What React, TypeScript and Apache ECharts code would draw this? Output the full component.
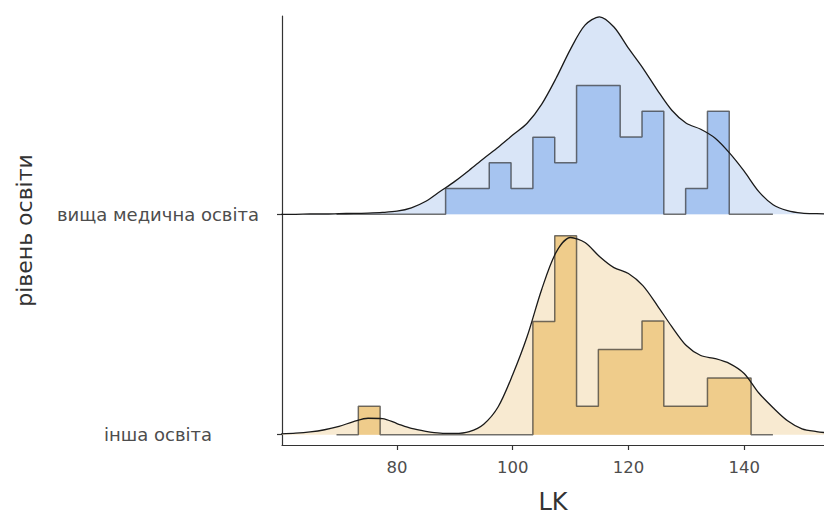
import React, { useEffect, useRef } from "react";
import * as echarts from "echarts";

// Category names (bottom to top)
const categories = ["інша освіта", "вища медична освіта"];

// Histogram bin edges (LK) shared by both groups
const binEdges = [
  69.56, 73.33, 77.1, 80.87, 84.64, 88.41, 92.18, 95.95, 99.72, 103.49, 107.27,
  111.04, 114.81, 118.58, 122.35, 126.12, 129.89, 133.66, 137.43, 141.2, 144.97,
];
// Counts per bin
const upperCounts = [0, 0, 0, 0, 0, 1, 1, 2, 1, 3, 2, 5, 5, 3, 4, 0, 1, 4, 0, 0];
const lowerCounts = [0, 1, 0, 0, 0, 0, 0, 0, 0, 4, 7, 1, 3, 3, 4, 1, 1, 2, 2, 0];

// Density curves, x grid and density values in per-mille
const densityX = [
  60, 62.5, 65, 67.5, 70, 72.5, 75, 77.5, 80, 82.5, 85, 87.5, 90, 92.5, 95, 97.5,
  100, 102.5, 105, 107.5, 110, 112.5, 115, 117.5, 120, 122.5, 125, 127.5, 130,
  132.5, 135, 137.5, 140, 142.5, 145, 147.5, 150, 152.5, 155,
];
const upperDensity = [
  0.0, 0.0, 0.1, 0.1, 0.2, 0.3, 0.4, 0.6, 1.0, 2.1, 4.2, 7.4, 10.6, 14.2, 18.0,
  21.6, 25.5, 29.3, 35.4, 43.8, 53.2, 60.9, 63.6, 60.3, 53.5, 47.1, 40.0, 33.5,
  29.3, 27.4, 24.5, 19.7, 13.9, 7.4, 3.1, 1.2, 0.4, 0.2, 0.1,
];
const lowerDensity = [
  0.3, 0.5, 0.9, 1.6, 2.7, 4.2, 5.3, 5.2, 3.6, 2.0, 1.1, 0.5, 0.4, 1.0, 3.4, 9.0,
  19.3, 31.6, 46.7, 58.7, 63.5, 61.9, 57.4, 53.8, 51.9, 48.0, 41.6, 34.8, 28.7,
  25.5, 24.5, 22.9, 19.7, 13.5, 8.7, 4.5, 1.9, 1.0, 0.5,
];

const xTicks = [80, 100, 120, 140];

// ridge height scale: y-units per unit of density
const K = 14.09;

function densityLine(base: number, dens: number[]) {
  return densityX.map((x, i) => [x, base + (dens[i] / 1000) * K]);
}

function histLine(base: number, counts: number[]) {
  const n = counts.reduce((a, b) => a + b, 0);
  const pts: number[][] = [];
  pts.push([binEdges[0], base]);
  for (let i = 0; i < counts.length; i++) {
    const w = binEdges[i + 1] - binEdges[i];
    const h = base + (counts[i] / (n * w)) * K;
    pts.push([binEdges[i], h]);
    pts.push([binEdges[i + 1], h]);
  }
  pts.push([binEdges[binEdges.length - 1], base]);
  return pts;
}

function ridgeSeries(
  base: number,
  counts: number[],
  dens: number[],
  light: string,
  strong: string
) {
  const d = densityLine(base, dens);
  return [
    {
      type: "line",
      data: d,
      smooth: 0.3,
      showSymbol: false,
      lineStyle: { width: 0 },
      areaStyle: { color: light, opacity: 1, origin: base },
      z: 1,
      silent: true,
    },
    {
      type: "line",
      data: histLine(base, counts),
      showSymbol: false,
      lineStyle: { color: "rgba(40,40,40,0.65)", width: 1.5 },
      areaStyle: { color: strong, opacity: 1, origin: base },
      z: 2,
      silent: true,
    },
    {
      type: "line",
      data: d,
      smooth: 0.3,
      showSymbol: false,
      lineStyle: { color: "#1a1a1a", width: 1.3 },
      z: 3,
      silent: true,
    },
  ];
}

export default function App() {
  const ref = useRef<HTMLDivElement>(null);
  useEffect(() => {
    if (!ref.current) return;
    const chart = echarts.init(ref.current, undefined, { renderer: "svg" });
    const font = "DejaVu Sans";
    chart.setOption({
      animation: false,
      backgroundColor: "#ffffff",
      grid: { left: 282, right: 0, top: 16, bottom: 70, containLabel: false, outerBoundsMode: "none" },
      xAxis: {
        type: "value",
        min: 60.14,
        max: 153.8,
        axisLine: { show: true, lineStyle: { color: "#333", width: 1.2 } },
        axisTick: { show: true, length: 5, customValues: xTicks, lineStyle: { color: "#333", width: 1.2 } },
        axisLabel: { customValues: xTicks, color: "#4d4d4d", fontSize: 16.5, fontFamily: font, margin: 14 },
        splitLine: { show: false },
        name: "LK",
        nameLocation: "middle",
        nameGap: 45,
        nameTextStyle: { fontSize: 24, color: "#333", fontFamily: font },
      },
      yAxis: {
        type: "value",
        min: 0.9533,
        max: 2.8997,
        axisLine: { show: true, lineStyle: { color: "#333", width: 1.2 } },
        axisTick: { show: true, length: 5, customValues: [1, 2], lineStyle: { color: "#333", width: 1.2 } },
        axisLabel: {
          customValues: [1, 2],
          color: "#4d4d4d",
          fontSize: 18,
          fontFamily: font,
          margin: 124,
          align: "center",
          formatter: (v: number) => categories[Math.round(v) - 1] ?? "",
        },
        splitLine: { show: false },
        name: "рівень освіти",
        nameLocation: "middle",
        nameGap: 247,
        nameRotate: 90,
        nameTextStyle: { fontSize: 22, color: "#333", fontFamily: font },
      },
      series: [
        ...ridgeSeries(2, upperCounts, upperDensity, "#d9e5f7", "#a6c4f0"),
        ...ridgeSeries(1, lowerCounts, lowerDensity, "#f8ead1", "#efcc8b"),
      ],
    });
    return () => chart.dispose();
  }, []);
  return <div ref={ref} style={{ width: 824, height: 515, position: "fixed", left: 0, top: 0 }} />;
}
